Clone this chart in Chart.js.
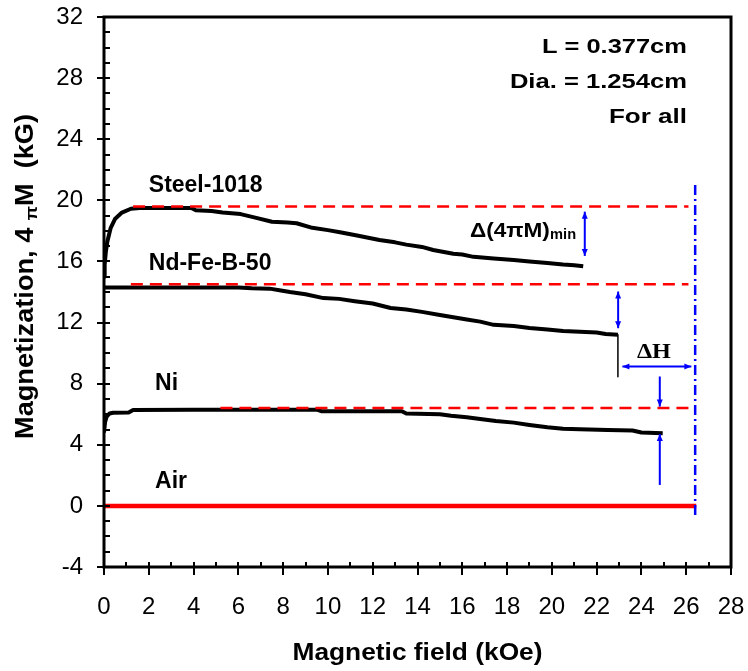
<!DOCTYPE html>
<html>
<head>
<meta charset="utf-8">
<script src="https://cdn.jsdelivr.net/npm/chart.js@4.4.1/dist/chart.umd.min.js"></script>
<style>
  html, body { margin: 0; padding: 0; background: #fff; }
  #wrap { width: 748px; height: 671px; position: relative; }
</style>
</head>
<body>
<div id="wrap"><canvas id="c"></canvas></div>
<script>
// Magnetization 4πM (kG) against applied field (kOe)
const fieldSteel = [0, 0.03, 0.08, 0.15, 0.3, 0.5, 0.8, 1.2, 1.6, 2.5, 3.9, 4.1, 4.8, 5.3, 6.1, 6.8, 7.5, 8.2, 8.6, 9.3, 10.0, 10.6, 11.3, 12.3, 13.0, 13.5, 14.2, 14.7, 15.6, 16.0, 16.5, 17.4, 18.3, 19.0, 19.8, 20.5, 21.0, 21.4];
const magSteel   = [15.0, 15.8, 16.6, 17.3, 18.2, 18.8, 19.2, 19.45, 19.5, 19.5, 19.5, 19.35, 19.3, 19.2, 19.1, 18.85, 18.6, 18.55, 18.5, 18.2, 18.05, 17.9, 17.7, 17.4, 17.25, 17.1, 16.95, 16.75, 16.5, 16.45, 16.3, 16.2, 16.1, 16.0, 15.9, 15.8, 15.75, 15.68];

const fieldNd = [0, 6.0, 6.6, 7.4, 7.9, 8.3, 9.0, 9.8, 10.5, 11.2, 12.0, 12.8, 13.5, 14.2, 15.0, 15.6, 16.2, 16.8, 17.4, 18.3, 19.0, 19.8, 20.5, 21.25, 22.0, 22.4, 22.95];
const magNd   = [14.3, 14.3, 14.25, 14.22, 14.1, 14.0, 13.85, 13.6, 13.55, 13.4, 13.25, 12.95, 12.85, 12.7, 12.5, 12.35, 12.2, 12.06, 11.85, 11.78, 11.65, 11.55, 11.45, 11.4, 11.35, 11.25, 11.2];

const fieldNi = [0, 0.05, 0.12, 0.25, 0.4, 1.1, 1.3, 4.0, 9.5, 9.7, 13.3, 13.5, 15.0, 15.5, 16.2, 16.8, 17.5, 18.3, 19.0, 19.8, 20.5, 21.25, 22.5, 23.6, 24.0, 24.95];
const magNi   = [4.8, 5.5, 5.85, 6.05, 6.1, 6.12, 6.28, 6.3, 6.3, 6.2, 6.2, 6.05, 6.0, 5.9, 5.8, 5.69, 5.55, 5.45, 5.3, 5.15, 5.05, 5.01, 4.97, 4.93, 4.8, 4.76];

const fieldAir = [0, 26.45];
const magAir   = [0, 0];

// Nd-Fe-B field step at the end of its run
const fieldNdStep = [22.95, 22.95];
const magNdStep   = [11.2, 8.45];

// Saturation reference levels (dashed)
const refLevel = [19.6, 14.5, 6.4];
const refFrom  = [1.3, 1.2, 5.2];
const refTo    = [26.1, 26.1, 26.1];

// Maximum field reached (dash-dot)
const fieldLimit = [26.4, 26.4];
const magLimit   = [21.0, -0.7];

// Arrows: start/end points, and whether both ends carry a head
const arrowStartX = [21.47, 22.96, 23.15, 24.82, 24.82];
const arrowStartY = [19.26, 14.03, 9.12, 8.47, 1.37];
const arrowEndX   = [21.47, 22.96, 26.23, 24.82, 24.82];
const arrowEndY   = [16.36, 11.63, 9.12, 6.5, 4.71];
const arrowBoth   = [true, true, true, false, false];

const fieldTicks = [0, 2, 4, 6, 8, 10, 12, 14, 16, 18, 20, 22, 24, 26, 28];
const magTicks   = [-4, 0, 4, 8, 12, 16, 20, 24, 28, 32];

const sampleNames = ['Steel-1018', 'Nd-Fe-B-50', 'Ni', 'Air'];

const SANS = "'Liberation Sans', Arial, Helvetica, sans-serif";
const SERIF = "'Liberation Serif', 'Times New Roman', serif";

function pts(xs, ys) { return xs.map((x, i) => ({ x: x, y: ys[i] })); }

function curve(data, color, width, dash) {
  return {
    data: data, showLine: true, borderColor: color, backgroundColor: color,
    borderWidth: width, borderDash: dash || [], pointRadius: 0, pointHoverRadius: 0,
    tension: 0, fill: false, borderCapStyle: 'butt', borderJoinStyle: 'round'
  };
}

const datasets = [];
refLevel.forEach((lv, i) => {
  datasets.push(curve(pts([refFrom[i], refTo[i]], [lv, lv]), '#ff0000', 2.5, [12, 7]));
});
datasets.push(curve(pts(fieldLimit, magLimit), '#0000ff', 2.5, [10, 4, 2, 4]));
datasets.push(curve(pts(fieldAir, magAir), '#ff0000', 4.5));
datasets.push(curve(pts(fieldSteel, magSteel), '#000000', 4));
datasets.push(curve(pts(fieldNd, magNd), '#000000', 4));
datasets.push(curve(pts(fieldNi, magNi), '#000000', 4));
datasets.push(curve(pts(fieldNdStep, magNdStep), '#000000', 1.5));

// Draw a string with its natural size or stretched to a given width
function putText(ctx, str, x, y, font, align, width) {
  ctx.save();
  ctx.font = font;
  const w = ctx.measureText(str).width;
  const sx = width ? width / w : 1;
  ctx.translate(x, y);
  ctx.scale(sx, 1);
  ctx.textAlign = align;
  ctx.textBaseline = 'alphabetic';
  ctx.fillStyle = '#000';
  ctx.fillText(str, 0, 0);
  ctx.restore();
  return w * sx;
}

function arrowHead(ctx, tx, ty, fx, fy) {
  const a = Math.atan2(ty - fy, tx - fx);
  const len = 7, half = 3;
  ctx.beginPath();
  ctx.moveTo(tx, ty);
  ctx.lineTo(tx - len * Math.cos(a) + half * Math.sin(a), ty - len * Math.sin(a) - half * Math.cos(a));
  ctx.lineTo(tx - len * Math.cos(a) - half * Math.sin(a), ty - len * Math.sin(a) + half * Math.cos(a));
  ctx.closePath();
  ctx.fill();
}

// Scales keep their fixed footprint; no extra room for label overflow
function fixBox(width, height) {
  return s => {
    if (width) s.width = width;
    if (height) s.height = height;
    s.paddingTop = 0; s.paddingBottom = 0; s.paddingLeft = 0; s.paddingRight = 0;
  };
}

const decor = {
  id: 'decor',
  afterDatasetsDraw(chart) {
    const ctx = chart.ctx;
    const xs = chart.scales.x, ys = chart.scales.y;
    const a = chart.chartArea;
    const X = v => xs.getPixelForValue(v);
    const Y = v => ys.getPixelForValue(v);

    ctx.save();
    // arrows
    ctx.strokeStyle = '#0000ff';
    ctx.fillStyle = '#0000ff';
    ctx.lineWidth = 2;
    for (let i = 0; i < arrowStartX.length; i++) {
      const x1 = X(arrowStartX[i]), y1 = Y(arrowStartY[i]);
      const x2 = X(arrowEndX[i]), y2 = Y(arrowEndY[i]);
      ctx.beginPath(); ctx.moveTo(x1, y1); ctx.lineTo(x2, y2); ctx.stroke();
      arrowHead(ctx, x2, y2, x1, y1);
      if (arrowBoth[i]) arrowHead(ctx, x1, y1, x2, y2);
    }

    // frame
    ctx.strokeStyle = '#000';
    ctx.lineWidth = 3;
    ctx.strokeRect(a.left, a.top, a.right - a.left, a.bottom - a.top);

    // tick marks: majors cross the axis, minors point inward
    ctx.lineWidth = 2;
    ctx.beginPath();
    for (let v = -4; v <= 32; v++) {
      const p = Math.round(Y(v));
      const major = magTicks.includes(v);
      ctx.moveTo(major ? a.left - 7 : a.left, p);
      ctx.lineTo(a.left + 6, p);
    }
    for (let v = 0; v <= 28; v++) {
      const p = Math.round(X(v));
      const major = fieldTicks.includes(v);
      ctx.moveTo(p, a.bottom - 5);
      ctx.lineTo(p, major ? a.bottom + 8 : a.bottom);
    }
    ctx.stroke();

    // sample names
    const bold23 = 'bold 23px ' + SANS;
    putText(ctx, sampleNames[0], X(2.0), Y(20.55), bold23, 'left');
    putText(ctx, sampleNames[1], X(2.0), Y(15.44), bold23, 'left');
    putText(ctx, sampleNames[2], X(2.28), Y(7.59), bold23, 'left');
    putText(ctx, sampleNames[3], X(2.28), Y(1.17), bold23, 'left');

    // sample geometry note
    const bold20 = 'bold 20px ' + SANS;
    putText(ctx, 'L = 0.377cm', X(26.03), Y(29.64), bold20, 'right', 145);
    putText(ctx, 'Dia. = 1.254cm', X(26.03), Y(27.35), bold20, 'right', 177);
    putText(ctx, 'For all', X(26.03), Y(25.06), bold20, 'right', 78);

    // Δ(4πM)min and ΔH
    putText(ctx, '\u0394(4\u03c0M)', X(16.34), Y(17.6), 'bold 21px ' + SANS, 'left', 80);
    putText(ctx, 'min', X(19.92), Y(17.44), 'bold 14px ' + SANS, 'left', 26);
    putText(ctx, '\u0394H', X(23.8), Y(9.68), 'bold 20px ' + SERIF, 'left', 34);

    // axis titles
    putText(ctx, 'Magnetic field (kOe)', 417.5, 660, 'bold 24px ' + SANS, 'center', 250);

    ctx.save();
    ctx.translate(33, 276.5);
    ctx.rotate(-Math.PI / 2);
    const f1 = 'bold 25px ' + SANS, f2 = 'bold 17px ' + SANS;
    const p1 = 'Magnetization, 4 ', p2 = '\u03c0', p3 = 'M  (kG)';
    ctx.font = f1; const w1 = ctx.measureText(p1).width; const w3 = ctx.measureText(p3).width;
    ctx.font = f2; const w2 = ctx.measureText(p2).width;
    const total = w1 + w2 + w3;
    const sx = 325 / total;
    ctx.scale(sx, 1);
    ctx.fillStyle = '#000';
    ctx.textBaseline = 'alphabetic';
    ctx.textAlign = 'left';
    let cx = -total / 2;
    ctx.font = f1; ctx.fillText(p1, cx, 0); cx += w1;
    ctx.font = f2; ctx.fillText(p2, cx, 4); cx += w2;
    ctx.font = f1; ctx.fillText(p3, cx, 0);
    ctx.restore();

    ctx.restore();
  }
};

new Chart(document.getElementById('c'), {
  type: 'scatter',
  data: { datasets: datasets },
  options: {
    responsive: true,
    maintainAspectRatio: false,
    animation: false,
    devicePixelRatio: 1,
    layout: { padding: { top: 17, right: 17, left: 0, bottom: 0 } },
    plugins: { legend: { display: false }, tooltip: { enabled: false } },
    events: [],
    scales: {
      x: {
        type: 'linear', min: 0, max: 28,
        afterBuildTicks: s => { s.ticks = fieldTicks.map(v => ({ value: v })); },
        afterFit: fixBox(0, 104),
        grid: { display: false, drawTicks: false },
        border: { display: false },
        ticks: { color: '#000', padding: 26, font: { family: SANS, size: 24 } }
      },
      y: {
        type: 'linear', min: -4, max: 32,
        afterBuildTicks: s => { s.ticks = magTicks.map(v => ({ value: v })); },
        afterFit: fixBox(104, 0),
        grid: { display: false, drawTicks: false },
        border: { display: false },
        ticks: { color: '#000', padding: 21, font: { family: SANS, size: 24 } }
      }
    }
  },
  plugins: [decor]
});
</script>
</body>
</html>
